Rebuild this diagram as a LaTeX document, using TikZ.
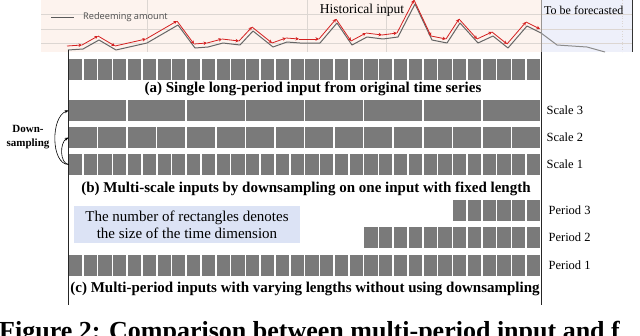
\documentclass[tikz,border=0pt]{standalone}
\usepackage{fontspec}
\setmainfont{Liberation Serif}
\newfontfamily\legendfont{Open Sans}
\usetikzlibrary{arrows.meta, positioning}
\definecolor{histpink}{HTML}{FDF3EE}
\definecolor{forecastblue}{HTML}{EEF0FA}
\definecolor{gridgray}{HTML}{DCD6D2}
\definecolor{blockgray}{HTML}{7A7A7A}
\definecolor{notelavender}{HTML}{DCE3F5}
\definecolor{seriesred}{HTML}{D42020}
\tikzset{
  blk/.style={rectangle, fill=blockgray, inner sep=0pt, minimum height=21pt,
              minimum width=#1},
  blk/.default=13pt,
  ttl/.style={font=\fontsize{15}{17}\selectfont\bfseries, inner sep=0pt},
  sidelbl/.style={font=\fontsize{12.5}{14}\selectfont, inner sep=0pt},
  arr/.style={-{Stealth[length=4pt, width=3pt]}, line width=0.6pt, #1},
  arr/.default=black,
  redseg/.style={seriesred, line width=0.8pt, -{Stealth[length=3.5pt, width=3.5pt]}},
  frame/.style={line width=0.9pt, black!85},
  grid/.style={gridgray, line width=0.6pt},
}

\begin{document}
\begin{tikzpicture}[x=1pt, y=-1pt]
  \useasboundingbox (0,0) rectangle (640,335);
  % chart
  \fill[histpink] (41,0) rectangle (541,52);
  \fill[forecastblue] (541,0) rectangle (632,52);
  \foreach \gy in {14,29,43}
    \draw[grid] (41,\gy) -- (632,\gy);
  \foreach \gx in {147,307,386}
    \draw[grid] (\gx,0) -- (\gx,52);
  \draw[grid, gridgray!70!black] (541,0) -- (541,52);
  \draw[grid, dotted] (622,0) -- (622,52);
  \draw[black!80, line width=0.9pt] (632,0) -- (632,52);

  \draw[black!60, line width=1pt, line join=round] plot coordinates {
    (68,50) (83,49) (99,40) (116,50) (147,43) (178,25) (195,48) (208,47)
    (223,43) (240,45) (253,31) (273,47) (287,42) (300,43) (320,43) (337,23)
    (352,45) (367,37) (383,39) (398,37) (415,4) (432,40) (447,43) (460,23)
    (478,43) (493,36) (508,48) (527,26) (541,33)};
  \draw[black!45, line width=1pt] plot coordinates {
    (541,33) (557,45) (587,47) (605,52)};
  \foreach \x/\y [remember=\x as \px (initially 68), remember=\y as \py (initially 50)] in
    {83/49, 99/40, 116/50, 147/43, 178/25, 195/48, 208/47, 223/43, 240/45,
     253/31, 273/47, 287/42, 300/43, 320/43, 337/23, 352/45, 367/37, 383/39,
     398/37, 415/4, 432/40, 447/43, 460/23, 478/43, 493/36, 508/48, 527/26, 541/33}
    \draw[redseg] (\px-1,\py-4) -- (\x-1,\y-4);

  \draw[black!65, line width=0.9pt] (51,17) -- (74,17);
  \node[anchor=west, inner sep=0pt, text=black!70,
        font=\legendfont\fontsize{9.2}{11}\selectfont] (legend) at (83,17) {Redeeming amount};
  \node[inner sep=0pt, font=\fontsize{13.5}{15}\selectfont] (hist) at (362,10) {Historical input};
  \node[inner sep=0pt, anchor=west, font=\fontsize{12}{14}\selectfont] (fcst) at (544,10) {To be forecasted};

  % rectangles
  \foreach \nm/\n/\w/\y in {a/32/14.78/69.5, sc3/8/59.125/110.5, sc2/16/29.5625/137.5,
                            sc1/32/14.78/164.5, pd3/6/14.78/210.5, pd2/12/14.78/237.5,
                            pd1/32/14.78/265.5}{
    \pgfmathsetmacro{\bw}{\w-1.6}
    \foreach \i in {1,...,\n}
      \node[blk=\bw pt] (\nm-\i) at ({541-(\n-\i+0.5)*\w}, \y) {};
  }

  \draw[frame] (68,50) -- (68,305);
  \draw[frame] (541,52) -- (541,305);

  \node[ttl] (tta) at (313,89) {(a) Single long-period input from original time series};
  \node[ttl] (ttb) at (306,189) {(b) Multi-scale inputs by downsampling on one input with fixed length};
  \node[ttl] (ttc) at (305,289) {(c) Multi-period inputs with varying lengths without using downsampling};

  \node[sidelbl, right=6pt of sc3-8] (lsc3) {Scale 3};
  \node[sidelbl, right=6pt of sc2-16] (lsc2) {Scale 2};
  \node[sidelbl, right=6pt of sc1-32] (lsc1) {Scale 1};
  \node[sidelbl, right=8pt of pd3-6] (lpd3) {Period 3};
  \node[sidelbl, right=8pt of pd2-12] (lpd2) {Period 2};
  \node[sidelbl, right=8pt of pd1-32] (lpd1) {Period 1};

  \node[font=\fontsize{11}{14}\selectfont\bfseries, align=center, inner sep=0pt]
    (ds) at (28,137) {Down-\\sampling};
  \draw[arr] (sc1-1.west) .. controls +(-18,0) and +(-18,6) .. (sc3-1.west);
  \draw[arr] (sc1-1.west) .. controls +(-9,-1) and +(-9,5) .. (sc2-1.west);

  \node[fill=notelavender, minimum width=226pt, minimum height=37pt, align=center,
        inner sep=0pt, font=\fontsize{15}{17}\selectfont]
    (note) at (187,224.5) {The number of rectangles denotes\\the size of the time dimension};

  \begin{scope}
    \clip (0,0) rectangle (640,335);
    \node[anchor=base west, inner sep=0pt, font=\fontsize{26}{30}\selectfont\bfseries]
      (cap) at (-1,339) {Figure 2: Comparison between multi-period input and f};
  \end{scope}
\end{tikzpicture}
\end{document}
